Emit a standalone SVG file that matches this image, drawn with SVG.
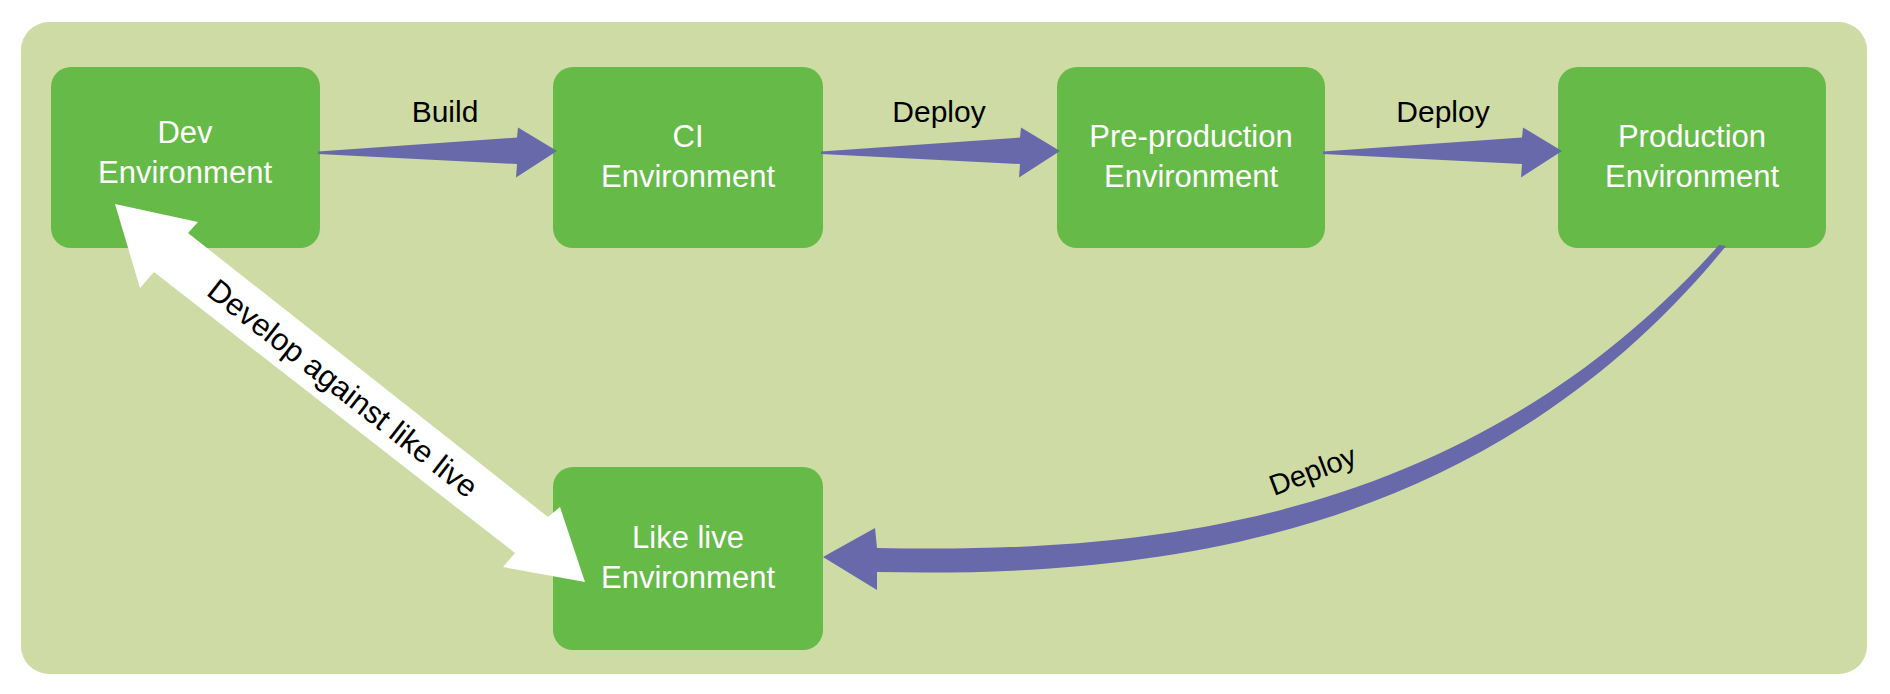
<svg xmlns="http://www.w3.org/2000/svg" width="1890" height="694" viewBox="0 0 1890 694">
  <style>
    .node rect { fill: #66BA47; }
    .node text { fill: #FFFFFF; font-family: "Liberation Sans", Arial, sans-serif; font-size: 31px; text-anchor: middle; }
    .arrow { fill: #6869AA; }
    .label { fill: #000000; font-family: "Liberation Sans", Arial, sans-serif; font-size: 30px; text-anchor: middle; }
  </style>
  <defs>
    <polygon id="straight-arrow" points="318,151.5 517,137.5 518,127.5 557,151 516,177.5 517,164 318,154"/>
  </defs>
  <rect width="1890" height="694" fill="#FFFFFF"/>
  <rect id="panel" x="21" y="22" width="1846" height="652" rx="28" ry="28" fill="#CFDBA5"/>

  <g id="node-dev" class="node">
    <rect x="51" y="67" width="269" height="181" rx="20" ry="20"/>
    <text x="185" y="143">Dev</text>
    <text x="185" y="183">Environment</text>
  </g>
  <g id="node-ci" class="node">
    <rect x="553" y="67" width="270" height="181" rx="20" ry="20"/>
    <text x="688" y="147">CI</text>
    <text x="688" y="187">Environment</text>
  </g>
  <g id="node-preprod" class="node">
    <rect x="1057" y="67" width="268" height="181" rx="20" ry="20"/>
    <text x="1191" y="147">Pre-production</text>
    <text x="1191" y="187">Environment</text>
  </g>
  <g id="node-prod" class="node">
    <rect x="1558" y="67" width="268" height="181" rx="20" ry="20"/>
    <text x="1692" y="147">Production</text>
    <text x="1692" y="187">Environment</text>
  </g>
  <g id="node-likelive" class="node">
    <rect x="553" y="467" width="270" height="183" rx="20" ry="20"/>
    <text x="688" y="548">Like live</text>
    <text x="688" y="588">Environment</text>
  </g>

  <g id="connectors">
    <use href="#straight-arrow" class="arrow"/>
    <use href="#straight-arrow" class="arrow" transform="translate(503,0)"/>
    <use href="#straight-arrow" class="arrow" transform="translate(1005,0)"/>
    <text class="label" x="445" y="122">Build</text>
    <text class="label" x="939" y="122">Deploy</text>
    <text class="label" x="1443" y="122">Deploy</text>

    <path class="arrow" d="M1719,245 C1462,532 1128,553 877,548 L875,528 L823,557 L877,590 L877,572 C1132,577 1478,550 1726,246 Z"/>
    <text class="label" style="font-size:29px;text-anchor:start" x="1274" y="496" transform="rotate(-21 1274 496)">Deploy</text>

    <polygon fill="#FFFFFF" points="115,204 198,222 188,233 548,517 560,507 585,582 503,567 515,553 154,272 140,288"/>
    <text class="label" style="font-size:31px" transform="translate(343,388) rotate(38)" x="0" y="11">Develop against like live</text>
  </g>
</svg>
